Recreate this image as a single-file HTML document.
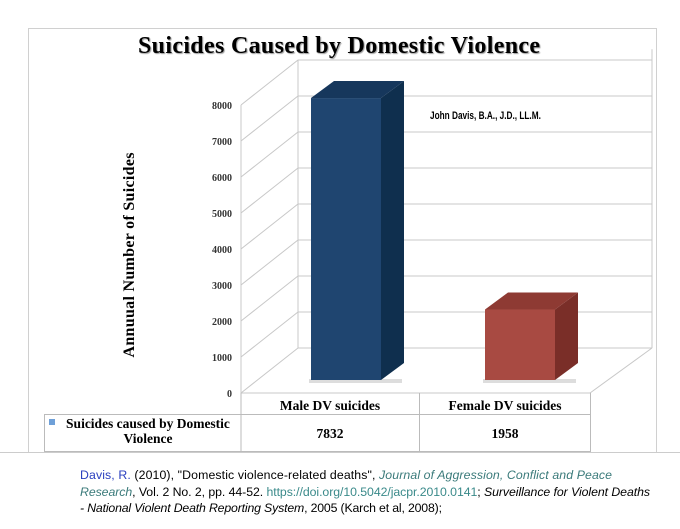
<!DOCTYPE html>
<html><head><meta charset="utf-8"><style>
body{margin:0;background:#fff;width:680px;height:529px;overflow:hidden}
svg{display:block}
.ft{font-family:"Liberation Sans",Arial,sans-serif;font-size:12.3px}
</style></head><body>
<svg width="680" height="529">
<rect x="28.5" y="28.5" width="628" height="424" fill="#fff" stroke="#d0d0d0"/>
<text x="339" y="53" text-anchor="middle" font-family="Liberation Serif,serif" font-weight="bold" font-size="24" textLength="402" fill="#000" style="text-shadow:1px 1px 1px #999">Suicides Caused by Domestic Violence</text>
<text transform="translate(134,255) rotate(-90)" text-anchor="middle" font-family="Liberation Serif,serif" font-weight="bold" font-size="16" textLength="205" fill="#000">Annuual  Number of Suicides</text>
<text transform="translate(430,119) scale(0.75,1)" x="0" y="0" font-family="Liberation Sans,sans-serif" font-weight="bold" font-size="11" fill="#000">John Davis, B.A., J.D., LL.M.</text>
<g id="axes"></g>
<g id="bars"></g>
<g font-family="Liberation Serif,serif" font-weight="bold" font-size="13.5" fill="#000">
<rect x="44.5" y="414.5" width="546" height="37" fill="none" stroke="#bbb"/>
<line x1="241" y1="393" x2="241" y2="452" stroke="#bbb"/>
<line x1="419.5" y1="393" x2="419.5" y2="452" stroke="#bbb"/>
<line x1="590.5" y1="393" x2="590.5" y2="452" stroke="#bbb"/>
<rect x="49" y="419" width="6" height="6" fill="#6fa0d8"/>
<text x="148" y="428" text-anchor="middle">Suicides caused by Domestic</text>
<text x="148" y="443" text-anchor="middle">Violence</text>
<g id="tbl"></g>
</g>
<line x1="0" y1="452.5" x2="680" y2="452.5" stroke="#ccc"/>
<g class="ft">
<text x="80" y="479" textLength="532"><tspan fill="#2a3fbf">Davis, R.</tspan> (2010), "Domestic violence-related deaths", <tspan fill="#3a7a7a" font-style="italic">Journal of Aggression, Conflict and Peace</tspan></text>
<text x="80" y="496" textLength="570"><tspan fill="#3a7a7a" font-style="italic">Research</tspan>, Vol. 2 No. 2, pp. 44-52. <tspan fill="#3a8a8a">https://doi.org/10.5042/jacpr.2010.0141</tspan>; <tspan font-style="italic">Surveillance for Violent Deaths</tspan></text>
<text x="80" y="512" textLength="362"><tspan font-style="italic">- National Violent Death Reporting System</tspan>, 2005 (Karch et al, 2008);</text>
</g>
</svg>
<script>
const categories=["Male DV suicides","Female DV suicides"];
const values=[7832,1958];
const ticks=[0,1000,2000,3000,4000,5000,6000,7000,8000];
const NS="http://www.w3.org/2000/svg";
const FX=241,FY=393,BX=298,BY=348,RX=590,RBX=652,K=0.036,BAR0=380;
const yF=v=>FY-v*K, yB=v=>BY-v*K;
function mk(t,a,p){const e=document.createElementNS(NS,t);for(const k in a)e.setAttribute(k,a[k]);p.appendChild(e);return e;}
const ax=document.getElementById('axes');
ticks.forEach(v=>{
 const l=mk('polyline',{points:`${FX},${yF(v)} ${BX},${yB(v)} ${RBX},${yB(v)}`,fill:'none',stroke:'#c8c8c8'},ax);
 
 
 const t=mk('text',{x:FX-9,y:yF(v)+4,'text-anchor':'end','font-family':'Liberation Serif,serif','font-size':'10','font-weight':'bold',fill:'#333'},ax);
 t.textContent=v;
 
 
});
mk('line',{x1:FX,y1:yF(0),x2:FX,y2:yF(8000),stroke:'#c8c8c8'},ax);
mk('line',{x1:BX,y1:yB(0),x2:BX,y2:yB(8000)-0,stroke:'#c8c8c8'},ax);
mk('polyline',{points:`${FX},${FY} ${RX},${FY} ${RBX},${BY}`,fill:'none',stroke:'#c8c8c8'},ax);
mk('line',{x1:RBX,y1:yB(8300),x2:RBX,y2:yB(0),stroke:'#c8c8c8'},ax);
const bg=document.getElementById('bars');
const cols=[["#1f4570","#0f2f4e","#16375c"],["#a84a42","#7a2e28","#8e3a33"]];
const cx=[311,485],W=70,DX=23,DY=17;
values.forEach((v,i)=>{
 const x=cx[i],top=BAR0-v*K,c=cols[i];
 const g=mk('g',{},bg);
 
 
 mk('rect',{x:x-2,y:BAR0-1,width:W+DX,height:4,fill:'#ddd'},g);
 mk('polygon',{points:`${x+W},${top} ${x+W+DX},${top-DY} ${x+W+DX},${BAR0-DY} ${x+W},${BAR0}`,fill:c[1]},g);
 mk('polygon',{points:`${x},${top} ${x+DX},${top-DY} ${x+W+DX},${top-DY} ${x+W},${top}`,fill:c[2]},g);
 mk('rect',{x:x,y:top,width:W,height:v*K,fill:c[0]},g);
});
const tb=document.getElementById('tbl');
const colC=[330,505];
categories.forEach((c,i)=>{
 const t=mk('text',{x:colC[i],y:410,'text-anchor':'middle'},tb);t.textContent=c;
 
 
 const d=mk('text',{x:colC[i],y:438,'text-anchor':'middle'},tb);d.textContent=values[i];
 
 
});
</script>
</body></html>
